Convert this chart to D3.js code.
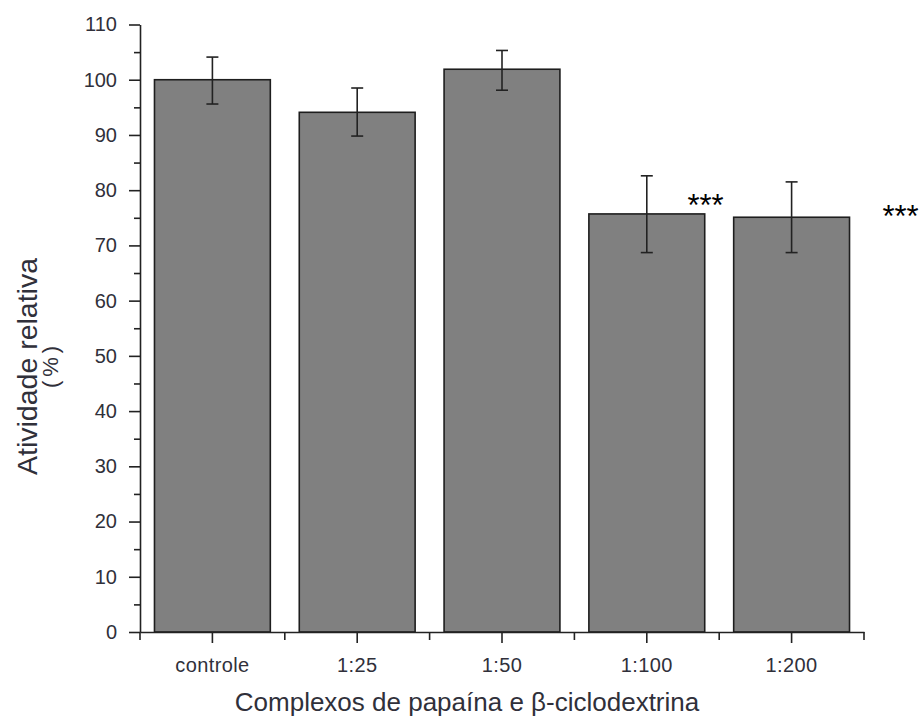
<!DOCTYPE html>
<meta charset="utf-8">
<title>Atividade relativa</title>
<script src="https://d3js.org/d3.v7.min.js"></script>
<style>
  body { margin: 0; background: #fff; }
  text { font-family: "Liberation Sans", Arial, sans-serif; }
</style>
<body>
<svg width="919" height="719"></svg>
<script>
  // Data
  var categories = ["controle", "1:25", "1:50", "1:100", "1:200"];
  var means = [100, 94.1, 101.9, 75.7, 75.1];
  var errUp = [104.1, 98.5, 105.3, 82.6, 81.5];
  var errDown = [95.6, 89.8, 98.1, 68.7, 68.7];
  var yTicks = [0, 10, 20, 30, 40, 50, 60, 70, 80, 90, 100, 110];
  var yMinor = [5, 15, 25, 35, 45, 55, 65, 75, 85, 95, 105];
  // significance marks: category, baseline height in data units
  var sigCats = ["1:100", "1:200"];
  var sigLevels = [75.3, 73.3];
  var sigText = ["***", "***"];

  var svg = d3.select("svg"),
      margin = {top: 24.5, right: 55, bottom: 87, left: 140},
      width = 864 - margin.left,
      height = 632 - margin.top;

  var g = svg.append("g")
      .attr("transform", "translate(" + margin.left + "," + margin.top + ")");

  var x = d3.scaleBand()
      .domain(categories)
      .range([0, width])
      .paddingInner(0.2)
      .paddingOuter(0.1);

  // band spanning the whole step, used for the axis ticks
  var xStep = d3.scaleBand().domain(categories).range([0, width]);

  var y = d3.scaleLinear()
      .domain([0, 110])
      .range([height, 0]);

  var axisColor = "#222";
  var labelColor = "#30303a";

  // bars
  g.selectAll(".bar")
    .data(categories)
    .enter().append("rect")
      .attr("class", "bar")
      .attr("x", function(d) { return x(d); })
      .attr("y", function(d, i) { return y(means[i]); })
      .attr("width", x.bandwidth())
      .attr("height", function(d, i) { return y(0) - y(means[i]); })
      .attr("fill", "#808080")
      .attr("stroke", "#1e1e1e")
      .attr("stroke-width", 1.6);

  // error bars
  var capW = 6;
  var eb = g.selectAll(".err")
    .data(categories)
    .enter().append("g")
      .attr("class", "err")
      .attr("stroke", "#111")
      .attr("stroke-width", 1.6);

  eb.append("line")
      .attr("x1", function(d) { return x(d) + x.bandwidth() / 2; })
      .attr("x2", function(d) { return x(d) + x.bandwidth() / 2; })
      .attr("y1", function(d, i) { return y(errUp[i]); })
      .attr("y2", function(d, i) { return y(errDown[i]); });
  eb.append("line")
      .attr("x1", function(d) { return x(d) + x.bandwidth() / 2 - capW; })
      .attr("x2", function(d) { return x(d) + x.bandwidth() / 2 + capW; })
      .attr("y1", function(d, i) { return y(errUp[i]); })
      .attr("y2", function(d, i) { return y(errUp[i]); });
  eb.append("line")
      .attr("x1", function(d) { return x(d) + x.bandwidth() / 2 - capW; })
      .attr("x2", function(d) { return x(d) + x.bandwidth() / 2 + capW; })
      .attr("y1", function(d, i) { return y(errDown[i]); })
      .attr("y2", function(d, i) { return y(errDown[i]); });

  // y axis
  var yAxis = g.append("g")
      .attr("class", "axis axis--y")
      .call(d3.axisLeft(y).tickValues(yTicks).tickSize(11).tickPadding(12).tickSizeOuter(0));
  g.append("g")
      .call(d3.axisLeft(y).tickValues(yMinor).tickSize(6).tickFormat(""))
      .select(".domain").remove();

  // x axis: major ticks at centers, minor at band boundaries
  var xAxis = g.append("g")
      .attr("class", "axis axis--x")
      .attr("transform", "translate(0," + height + ")")
      .call(d3.axisBottom(xStep).tickSize(11).tickPadding(15).tickSizeOuter(0));
  var bounds = categories.map(function(d) { return xStep(d); }).concat([width]);
  xAxis.selectAll(".minor")
    .data(bounds)
    .enter().append("line")
      .attr("class", "minor")
      .attr("x1", function(d) { return d; })
      .attr("x2", function(d) { return d; })
      .attr("y1", 0)
      .attr("y2", 8)
      .attr("stroke", axisColor)
      .attr("stroke-width", 1.6);

  svg.selectAll(".axis path, .axis line, g line")
      .attr("stroke", axisColor);
  svg.selectAll(".axis path").attr("stroke-width", 1.6);
  svg.selectAll(".tick line").attr("stroke-width", 1.6);

  svg.selectAll(".axis text")
      .attr("fill", labelColor)
      .style("font-size", "20px");
  xAxis.selectAll("text")
      .style("font-size", "20px")
      .style("letter-spacing", "0.4px");
  yAxis.selectAll("text").style("font-size", "20px");

  // significance asterisks, placed near the right edge of each band
  var sigDx = [-13.7, 36.5];
  g.selectAll(".sig")
    .data(sigCats)
    .enter().append("text")
      .attr("class", "sig")
      .attr("x", function(d, i) { return xStep(d) + xStep.bandwidth() + sigDx[i]; })
      .attr("y", function(d, i) { return y(sigLevels[i]); })
      .attr("text-anchor", "middle")
      .attr("fill", "#000")
      .style("font-size", "31px")
      .text(function(d, i) { return sigText[i]; });

  // axis titles
  svg.append("text")
      .attr("x", 467)
      .attr("y", 711)
      .attr("text-anchor", "middle")
      .attr("fill", labelColor)
      .style("font-size", "26px")
      .text("Complexos de papaína e β-ciclodextrina");

  svg.append("text")
      .attr("transform", "translate(37,366.5) rotate(-90)")
      .attr("text-anchor", "middle")
      .attr("fill", labelColor)
      .style("font-size", "28.5px")
      .text("Atividade relativa");

  svg.append("text")
      .attr("transform", "translate(58,365) rotate(-90)")
      .attr("text-anchor", "middle")
      .attr("fill", labelColor)
      .style("font-size", "22px")
      .style("letter-spacing", "4px")
      .text("(%)");
</script>
</body>
